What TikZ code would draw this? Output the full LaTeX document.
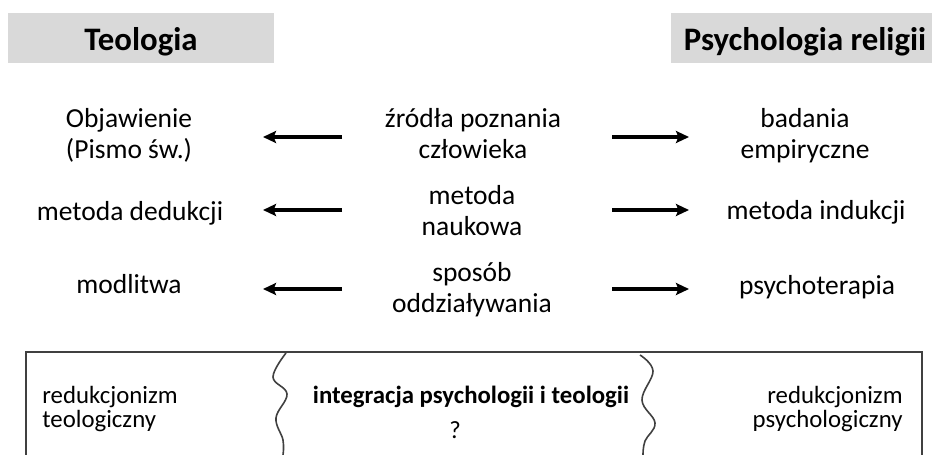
\documentclass[tikz,border=0pt]{standalone}
\usepackage{fontspec}
\setmainfont{Carlito}
\usetikzlibrary{arrows.meta}

\definecolor{headgray}{RGB}{217,217,217}
\definecolor{linegray}{RGB}{64,64,64}

\tikzset{
  head/.style={font=\fontsize{16.4}{19}\selectfont\bfseries, inner sep=0pt, anchor=base},
  txt/.style={font=\fontsize{13.75}{15.5}\selectfont, align=center, inner sep=0pt, anchor=base},
  small/.style={font=\fontsize{12.4}{12}\selectfont, inner sep=0pt},
  arr/.style={line width=2.1pt, -{Stealth[length=6.5pt,width=6pt,inset=1.2pt]}},
  wave/.style={color=linegray, line width=0.8pt}
}

\begin{document}
\begin{tikzpicture}[x=0.5pt,y=-0.5pt]
    \useasboundingbox (0,0) rectangle (932,455);

    % Header boxes
    \fill [headgray] (8,13) rectangle (274,63);
    \fill [headgray] (671,13) rectangle (932,63);
    \node [head] (teol) at (141,50) {Teologia};
    \node [head] (psych) at (805,50) {Psychologia religii};

    % Text Node -- left column (base = last line)
    \node [txt] (objaw) at (129,158) {Objawienie\\(Pismo św.)};
    \node [txt] (dedukcja) at (130,220) {metoda dedukcji};
    \node [txt] (modlitwa) at (129,293) {modlitwa};

    % Text Node -- middle column
    \node [txt] (zrodla) at (473,158) {źródła poznania\\człowieka};
    \node [txt] (metoda) at (472,235) {metoda\\naukowa};
    \node [txt] (sposob) at (472,312) {sposób\\oddziaływania};

    % Text Node -- right column
    \node [txt] (badania) at (805,158) {badania\\empiryczne};
    \node [txt] (indukcja) at (816,219) {metoda indukcji};
    \node [txt] (psychoterapia) at (817,294) {psychoterapia};

    % Arrows
    \foreach \r/\y in {1/137,2/210,3/289} {
      \coordinate (lb\r) at (342,\y);
      \coordinate (le\r) at (263,\y);
      \coordinate (rb\r) at (612,\y);
      \coordinate (re\r) at (689,\y);
      \draw [arr] (lb\r) -- (le\r);
      \draw [arr] (rb\r) -- (re\r);
    }

    % Bottom box, open at the lower edge
    \draw [color=linegray, line width=0.7pt] (26,455) -- (26,352) -- (922,352) -- (922,455);
    % Curve Lines
    \draw [wave] plot [smooth, tension=0.65] coordinates {(286,353) (273,377) (287,394) (276,418) (283,440) (283,455)};
    \draw [wave] plot [smooth, tension=0.65] coordinates {(640,355) (653,371) (642,400) (655,423) (645,441) (643,455)};

    % Text Node -- bottom
    \node [small, anchor=base west, align=left] (redteol) at (42,427) {redukcjonizm\\teologiczny};
    \node [small, anchor=base, font=\fontsize{12.4}{12}\selectfont\bfseries] (integracja) at (471,403) {integracja psychologii i teologii};
    \node [small, anchor=base] (pytanie) at (455,438) {?};
    \node [small, anchor=base east, align=right] (redpsych) at (903,427) {redukcjonizm\\psychologiczny};

\end{tikzpicture}
\end{document}
